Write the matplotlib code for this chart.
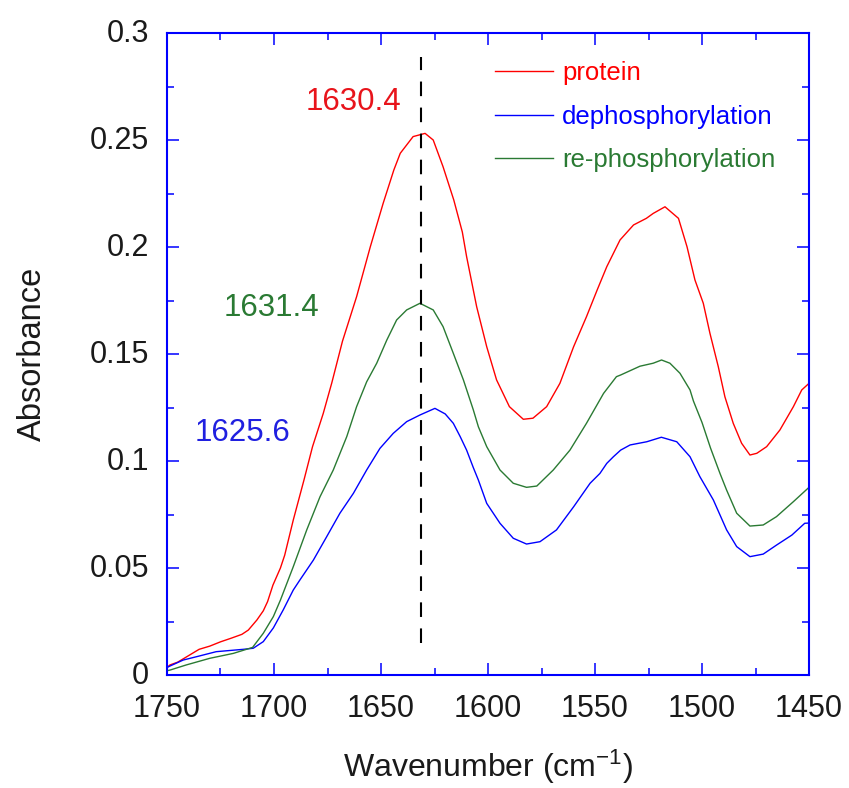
import matplotlib
matplotlib.use("Agg")
import matplotlib.pyplot as plt
import matplotlib.transforms as mtransforms

plt.rcParams['font.family'] = ['Liberation Sans', 'DejaVu Sans']
plt.rcParams['mathtext.fontset'] = 'custom'
plt.rcParams['mathtext.rm'] = 'Liberation Sans'
plt.rcParams['mathtext.it'] = 'Liberation Sans:italic'

# ---- data (wavenumber cm^-1, absorbance) ----
protein_wn = [1750, 1748.6, 1745, 1740, 1735, 1730, 1725, 1720, 1715, 1712, 1708, 1705, 1703,
              1700.5, 1697, 1695, 1691, 1686, 1682, 1677, 1673, 1668, 1661.4, 1655, 1649, 1644,
              1641, 1635, 1629.4, 1625.6, 1621, 1616, 1612, 1610, 1605.3, 1600.6, 1596, 1590,
              1583.5, 1579, 1572.6, 1566.4, 1560, 1554, 1549, 1544.5, 1538.3, 1532, 1526,
              1522.8, 1517.3, 1511, 1507, 1503.3, 1499.4, 1496.3, 1492.4, 1489.3, 1485.4,
              1481.5, 1477.6, 1474.4, 1469.8, 1463.6, 1457.3, 1453.4, 1450]
protein_abs = [0.0035, 0.0047, 0.006, 0.009, 0.012, 0.0135, 0.0155, 0.0172, 0.019, 0.021, 0.0257,
               0.030, 0.0343, 0.042, 0.050, 0.056, 0.0724, 0.0911, 0.1067, 0.1222, 0.1365, 0.156,
               0.1768, 0.2001, 0.2204, 0.236, 0.2438, 0.2516, 0.2531, 0.250, 0.2375, 0.222, 0.207,
               0.1955, 0.1721, 0.1534, 0.1379, 0.1254, 0.1195, 0.120, 0.1254, 0.1363, 0.1534,
               0.1674, 0.1799, 0.1908, 0.2033, 0.2103, 0.2134, 0.2157, 0.2188, 0.2134, 0.2001,
               0.1846, 0.1737, 0.1597, 0.1441, 0.130, 0.1176, 0.1083, 0.1028, 0.1036, 0.1067,
               0.1145, 0.1254, 0.1332, 0.1363]

dephos_wn = [1750, 1748.6, 1742.4, 1736, 1727, 1714.3, 1709.7, 1705, 1700.3, 1695.7, 1691, 1687.9,
             1681.6, 1675.4, 1669.2, 1662.9, 1656.7, 1650.5, 1644.3, 1638, 1631.8, 1624.8, 1620,
             1616.2, 1613, 1610, 1606.9, 1604.5, 1600.6, 1594.4, 1588.2, 1582, 1575.7, 1568,
             1560, 1552.3, 1547.7, 1544.5, 1541.4, 1538, 1533.6, 1525.8, 1519, 1511.8, 1505.6,
             1501, 1494.7, 1488.5, 1483.8, 1477.6, 1471.4, 1465.2, 1458, 1452, 1450]
dephos_abs = [0.0035, 0.0042, 0.007, 0.0086, 0.0109, 0.012, 0.0125, 0.0156, 0.022, 0.0304, 0.0397,
              0.0444, 0.0537, 0.0646, 0.0756, 0.0849, 0.0958, 0.1059, 0.1129, 0.1184, 0.1215,
              0.1246, 0.122, 0.1176, 0.1114, 0.1051, 0.0970, 0.0911, 0.0802, 0.0709, 0.0639,
              0.0612, 0.0623, 0.0678, 0.0786, 0.0896, 0.0942, 0.0989, 0.102, 0.1051, 0.1075,
              0.109, 0.1111, 0.109, 0.102, 0.0927, 0.0818, 0.0678, 0.060, 0.0553, 0.0565,
              0.0607, 0.0654, 0.0709, 0.071]

rephos_wn = [1750, 1748.6, 1741, 1730, 1719, 1710, 1705, 1700.3, 1697, 1691, 1684.7, 1678.5,
             1672.3, 1666, 1661.4, 1656.7, 1652, 1647.3, 1642.7, 1638, 1631.8, 1625.6, 1621,
             1616.2, 1611.5, 1606.9, 1604.5, 1600.6, 1594.4, 1588.2, 1582, 1577.2, 1569.5,
             1561.7, 1554, 1546, 1540, 1538, 1529, 1522.8, 1518.9, 1515, 1510.3, 1505.6, 1504,
             1500, 1496, 1491.6, 1488.5, 1483.8, 1477.6, 1471.4, 1465.2, 1457.3, 1450]
rephos_abs = [0.002, 0.0023, 0.0047, 0.0078, 0.0101, 0.0129, 0.0195, 0.0273, 0.035, 0.0506,
              0.0678, 0.0833, 0.0958, 0.1114, 0.1254, 0.137, 0.1457, 0.1565, 0.1659, 0.1706,
              0.1737, 0.1706, 0.1628, 0.1503, 0.1379, 0.124, 0.116, 0.1067, 0.0958, 0.0896,
              0.0877, 0.0883, 0.0958, 0.1051, 0.1176, 0.1316, 0.1394, 0.1402, 0.1443, 0.1457,
              0.1472, 0.1457, 0.141, 0.1332, 0.128, 0.118, 0.106, 0.0942, 0.0864, 0.0756,
              0.0696, 0.0701, 0.074, 0.081, 0.0877]

series_labels = ['protein', 'dephosphorylation', 're-phosphorylation']
peak_labels = ['1630.4', '1625.6', '1631.4']
marker_wn = 1631.5

RED = '#ff0000'
BLUE = '#0000ff'
GREEN = '#2a7a33'

fig = plt.figure(figsize=(8.49, 7.88), dpi=100)
ax = fig.add_axes([0.1967, 0.1434, 0.7562, 0.8147])

ax.plot(protein_wn, protein_abs, color=RED, lw=1.0, label=series_labels[0])
ax.plot(dephos_wn, dephos_abs, color=BLUE, lw=1.0, label=series_labels[1])
ax.plot(rephos_wn, rephos_abs, color=GREEN, lw=1.0, label=series_labels[2])

ax.plot([marker_wn, marker_wn], [0.015, 0.289], color='black', lw=1.5,
        dashes=(7, 5.5))

ax.text(1663, 0.2678, peak_labels[0], color='#e8141b', fontsize=22.5, ha='center', va='center')
ax.text(1701.4, 0.1715, peak_labels[2], color=GREEN, fontsize=22.5, ha='center', va='center')
ax.text(1714.5, 0.1131, peak_labels[1], color='#2020e0', fontsize=22.5, ha='center', va='center')

ax.set_xlim(1750, 1450)
ax.set_ylim(0, 0.3)
ax.set_xticks([1750, 1700, 1650, 1600, 1550, 1500, 1450])
ax.set_xticklabels(['1750', '1700', '1650', '1600', '1550', '1500', '1450'])
ax.set_xticks([1725, 1675, 1625, 1575, 1525, 1475], minor=True)
ax.set_yticks([0, 0.05, 0.1, 0.15, 0.2, 0.25, 0.3])
ax.set_yticklabels(['0', '0.05', '0.1', '0.15', '0.2', '0.25', '0.3'])
ax.set_yticks([0.025, 0.075, 0.125, 0.175, 0.225, 0.275], minor=True)

for s in ax.spines.values():
    s.set_color(BLUE)
    s.set_linewidth(1.5)
ax.tick_params(which='both', direction='in', top=True, right=True, color=BLUE,
               width=1.1, labelsize=22, labelcolor='#1a1a1a')
ax.tick_params(which='major', length=8.5)
ax.tick_params(axis='x', which='major', pad=14)
ax.tick_params(axis='y', which='major', pad=13)
ax.tick_params(which='minor', length=5)

shift = mtransforms.ScaledTranslation(0, 3 / 100.0, fig.dpi_scale_trans)
for lab in ax.get_yticklabels():
    lab.set_transform(lab.get_transform() + shift)

ax.set_xlabel('Wavenumber (cm$^{-1}$)', fontsize=23, color='#1a1a1a', labelpad=17)
ax.set_ylabel('Absorbance', fontsize=23.5, color='#1a1a1a', labelpad=30)

leg = ax.legend(loc='upper left', bbox_to_anchor=(0.511, 0.956), frameon=False,
                fontsize=18.5, handlelength=2.25, handletextpad=0.35, labelspacing=0.75,
                borderpad=0, borderaxespad=0, labelcolor='linecolor')

fig.savefig('out.png', dpi=100)
